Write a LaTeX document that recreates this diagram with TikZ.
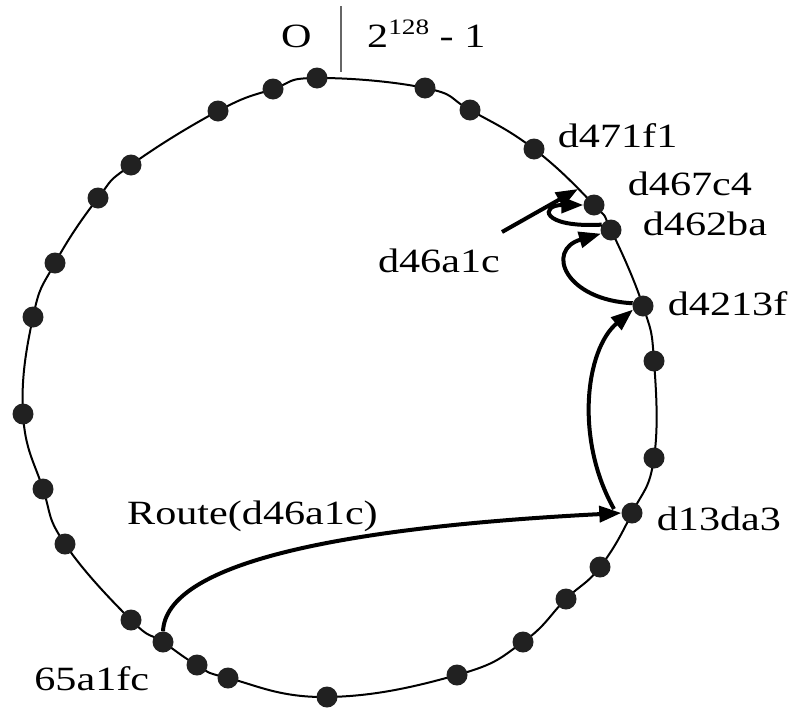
\documentclass[tikz,border=0pt]{standalone}
\usepackage{fontspec}
\setmainfont{Liberation Serif}[FakeStretch=1.24]
\usepackage{tikz}
\usetikzlibrary{positioning, arrows.meta}
\tikzset{
    ring/.style={draw=black, line width=2pt},
    peer/.style={circle, fill=black!87, inner sep=0pt, minimum size=21pt},
    lbl/.style={inner sep=0pt, font=\fontsize{34}{40}\selectfont, text height=23pt, text depth=0pt},
    hop/.style={-{Triangle[length=22pt, width=16pt]}, line width=4pt},
    zeromark/.style={draw=black!60, line width=1.3pt}
}

\begin{document}
\begin{tikzpicture}[x=1pt, y=-1pt]
        \useasboundingbox (0,0) rectangle (794,707);

        % Positions on the ring, clockwise from the top
        \foreach \x/\y [count=\i] in {317/78, 425/88, 470/110, 534/149, 594/205, 611/230, 643/306,
            654/361, 654/458, 632/513, 600/567, 566/599, 523/642, 457/675, 327/697, 228/678,
            197/665, 163/642, 131/620, 65/544, 43/489, 23/414, 33/317, 55/263, 98/198,
            131/165, 218/111, 273/89}
            \coordinate (p\i) at (\x,\y);

        \draw[ring] plot[smooth cycle, tension=0.75] coordinates {(p1) (p2) (p3) (p4) (p5) (p6) (p7) (p8) (p9) (p10)
            (p11) (p12) (p13) (p14) (p15) (p16) (p17) (p18) (p19) (p20) (p21) (p22) (p23) (p24)
            (p25) (p26) (p27) (p28)};

        % Peers
        \foreach \i in {1,2,3,8,9,11,12,13,14,15,16,17,19,20,21,22,23,24,25,26,27,28}
            \node[peer] (n\i) at (p\i) {};
        \node[peer] (d471f1) at (p4) {};
        \node[peer] (d467c4) at (p5) {};
        \node[peer] (d462ba) at (p6) {};
        \node[peer] (d4213f) at (p7) {};
        \node[peer] (d13da3) at (p10) {};
        \node[peer] (src) at (p18) {};

        % Zero point of the id space
        \draw[zeromark] (341,6) -- (341,72);
        \node[lbl, anchor=base west] (zero-txt) at (281,47) {O};
        \node[lbl, anchor=base west] (max-txt) at (367,47) {2\raisebox{12.7pt}{\fontsize{22}{22}\selectfont 128} - 1};

        % Labels
        \node[lbl, right=13pt of d471f1, yshift=13.5pt] (d471f1-txt) {d471f1};
        \node[lbl, right=23pt of d467c4, yshift=21.5pt] (d467c4-txt) {d467c4};
        \node[lbl, right=21pt of d462ba, yshift=6.5pt] (d462ba-txt) {d462ba};
        \node[lbl, right=14pt of d4213f, yshift=2.5pt] (d4213f-txt) {d4213f};
        \node[lbl, right=14pt of d13da3, yshift=-5.5pt] (d13da3-txt) {d13da3};
        \node[lbl, left=3pt of src, yshift=-36.5pt] (src-txt) {65a1fc};
        \node[lbl, anchor=base west] (route-txt) at (127,524) {Route(d46a1c)};

        % Key
        \coordinate (keyfrom) at (502,232);
        \coordinate (keyto) at (578,189);
        \node[lbl, below left=17pt and 2pt of keyfrom] (key-txt) {d46a1c};
        \draw[hop] (keyfrom) -- (keyto);

        % Hops
        \draw[hop] (src.north) .. controls (166,565) and (330,528) .. (d13da3.west);
        \draw[hop] (614,509) .. controls (575,440) and (585,350) .. (d4213f.200);
        \draw[hop] (d4213f.165) .. controls (565,300) and (545,250) .. (d462ba.200);
        \draw[hop] (d462ba.150) .. controls (540,228) and (540,205) .. (d467c4.west);
    \end{tikzpicture}
\end{document}
